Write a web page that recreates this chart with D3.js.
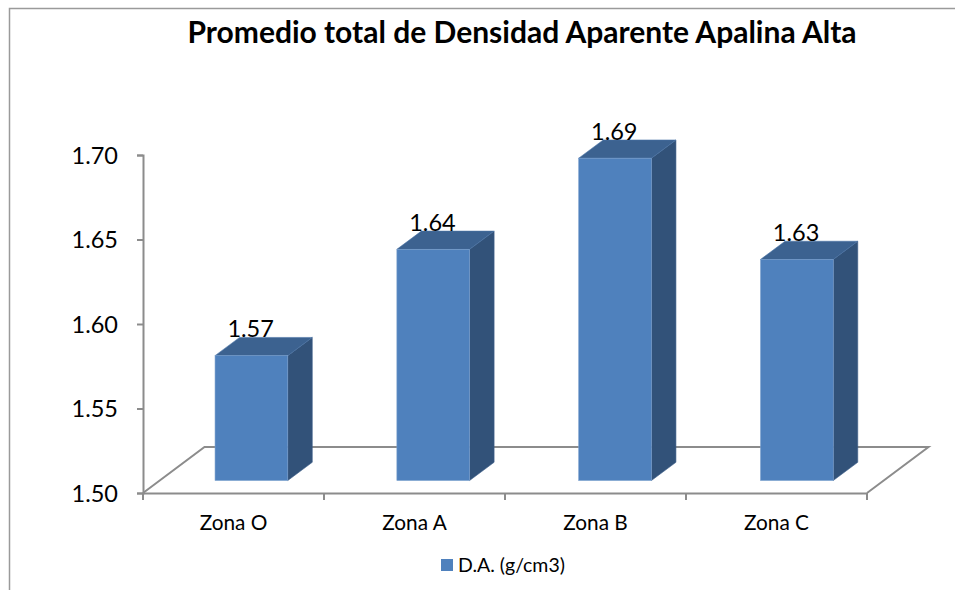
<!DOCTYPE html>
<html><head><meta charset="utf-8">
<script src="https://cdn.jsdelivr.net/npm/d3@7"></script>
<style>html,body{margin:0;padding:0;background:#fff}svg{display:block}text{font-family:Lato,Carlito,"Open Sans",sans-serif;fill:#000}</style>
</head><body><svg width="955" height="590"></svg>
<script>
const title = "Promedio total de Densidad Aparente Apalina Alta";
const categories = ["Zona O","Zona A","Zona B","Zona C"];
const values = [1.574,1.637,1.691,1.631];
const yTicks = [1.50,1.55,1.60,1.65,1.70];
const legendLabel = "D.A. (g/cm3)";

const svg = d3.select("svg");
const grey = "#8c8c8c";
const dx = 24.5, dy = 18.2;
const floorDx = 61.5, floorDy = 46;
const axisX = 143, axisBottom = 493, axisTop = 155, axisRight = 867;

// frame
svg.append("path").attr("d","M9.5 590V8.5H955").attr("fill","none").attr("stroke","#9a9a9a").attr("stroke-width",1.5);

// scales
const wallY = d3.scaleLinear().domain([1.5,1.7]).range([axisBottom,axisTop]);
const barY = d3.scaleLinear().domain([1.5,1.7]).range([480.5,143]);
const tickX = d3.scaleBand().domain(categories).range([axisX,axisRight]);
const barX = d3.scaleBand().domain(categories).range([160.5,887.8]).paddingInner(0.6).paddingOuter(0.3);

// axes
const yAxis = d3.axisLeft(wallY).tickValues(yTicks).tickFormat(d3.format(".2f")).tickSize(6).tickPadding(19);
const gy = svg.append("g").attr("transform",`translate(${axisX},0)`).call(yAxis);
gy.selectAll("path,line").attr("stroke",grey).attr("stroke-width",2);
gy.selectAll("text").attr("font-size",23.5).attr("dy","0.36em");

const xAxis = d3.axisBottom(tickX).tickSizeOuter(0).tickSize(0).tickPadding(22);
const gx = svg.append("g").attr("transform",`translate(0,${axisBottom})`).call(xAxis);
gx.select("path").attr("stroke",grey).attr("stroke-width",2);
gx.selectAll("line").remove();
gx.selectAll("text").attr("font-size",20.8).attr("dy","0.71em");
svg.append("g").selectAll("line").data(categories.map(c=>tickX(c)).concat([axisRight])).join("line")
  .attr("x1",d=>d).attr("x2",d=>d).attr("y1",axisBottom).attr("y2",axisBottom+7)
  .attr("stroke",grey).attr("stroke-width",2);

// floor
svg.append("path")
  .attr("d",`M${axisX} ${axisBottom}L${axisX+floorDx} ${axisBottom-floorDy}H${axisRight+floorDx}L${axisRight} ${axisBottom}`)
  .attr("fill","none").attr("stroke",grey).attr("stroke-width",2);

// bars
const bars = svg.append("g").selectAll("g").data(categories.map((c,i)=>({c,v:values[i]}))).join("g");
const bw = barX.bandwidth();
bars.append("path").attr("fill","#325279").attr("stroke","#3a5d88").attr("stroke-width",0.6)
  .attr("d",d=>{const x=barX(d.c)+bw,t=barY(d.v),b=barY(1.5);
    return `M${x} ${t}l${dx} ${-dy}V${b-dy}L${x} ${b}Z`;});
bars.append("path").attr("fill","#3c6290").attr("stroke","#4a74a6").attr("stroke-width",0.6)
  .attr("d",d=>{const x=barX(d.c),t=barY(d.v);
    return `M${x} ${t}l${dx} ${-dy}h${bw}l${-dx} ${dy}Z`;});
bars.append("rect").attr("x",d=>barX(d.c)).attr("y",d=>barY(d.v)).attr("width",bw)
  .attr("height",d=>barY(1.5)-barY(d.v)).attr("fill","#4f81bd").attr("stroke","#7ba0cd").attr("stroke-width",0.6);
bars.append("text").attr("x",d=>barX(d.c)+bw/2-0.8).attr("y",d=>barY(d.v)-18.5)
  .attr("text-anchor","middle").attr("font-size",23.5).text(d=>d3.format(".2f")(d.v));

// title
svg.append("text").attr("x",522).attr("y",43).attr("text-anchor","middle")
  .attr("font-size",30).attr("font-weight",700).text(title);

// legend
svg.append("rect").attr("x",441).attr("y",559).attr("width",12).attr("height",12).attr("fill","#4f81bd");
svg.append("text").attr("x",458).attr("y",572).attr("font-size",19.5).text(legendLabel);
</script></body></html>
